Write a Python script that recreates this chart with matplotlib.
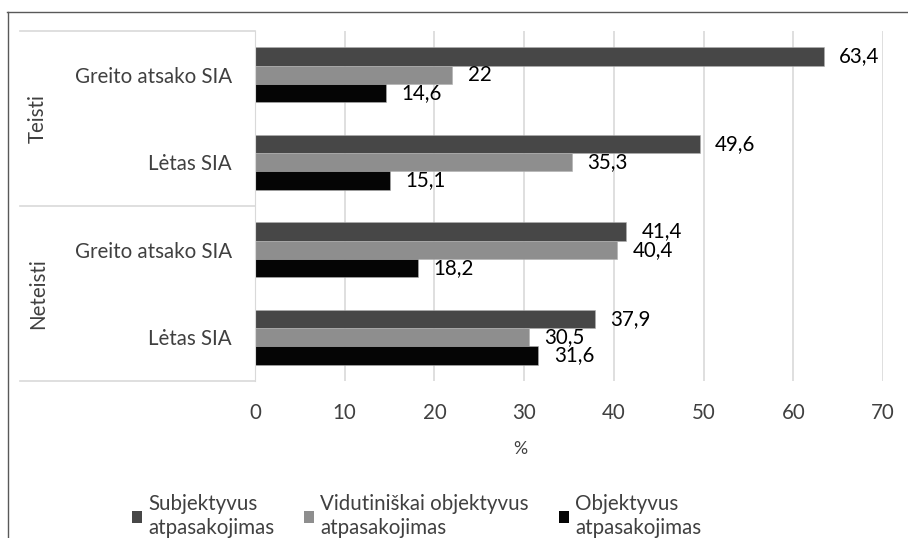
import numpy as np
import matplotlib
matplotlib.use("Agg")
import matplotlib.pyplot as plt
from matplotlib.patches import Patch
from matplotlib.lines import Line2D

plt.rcParams['font.family'] = ['Lato', 'DejaVu Sans']

# duomenys
groups = ["Teisti", "Neteisti"]
categories = ["Greito atsako SIA", "Lėtas SIA", "Greito atsako SIA", "Lėtas SIA"]
series_names = ["Subjektyvus\natpasakojimas",
                "Vidutiniškai objektyvus\natpasakojimas",
                "Objektyvus\natpasakojimas"]
subjektyvus = [63.4, 49.6, 41.4, 37.9]
vidutiniskai = [22, 35.3, 40.4, 30.5]
objektyvus = [14.6, 15.1, 18.2, 31.6]
x_ticks = [0, 10, 20, 30, 40, 50, 60, 70]

colors = ['#474747', '#8e8e8e', '#050505']
text_col = '#404040'
grid_col = '#d9d9d9'
fs = 14.8

W, H = 908, 538
fig = plt.figure(figsize=(W / 100, H / 100), dpi=100)
ax = fig.add_axes([255 / W, 1 - 381 / H, 628 / W, 350 / H])

y = np.arange(len(categories))
h = 0.208
for i, (vals, c, name) in enumerate(zip([subjektyvus, vidutiniskai, objektyvus], colors, series_names)):
    bars = ax.barh(y + (i - 1) * h, vals, height=h, color=c, label=name,
                   edgecolor='#b0b0b0', linewidth=0.4)
    ax.bar_label(bars, labels=[f"{v:g}".replace('.', ',') for v in vals],
                 padding=11, fontsize=fs, color='black')

ax.set_xlim(0, 70)
ax.set_ylim(3.5, -0.5)
ax.set_xticks(x_ticks)
ax.set_yticks(y)
ax.set_yticklabels(categories)
ax.grid(axis='x', color=grid_col, lw=1.2)
ax.set_axisbelow(True)
for s in ['top', 'right', 'bottom']:
    ax.spines[s].set_visible(False)
ax.spines['left'].set_color(grid_col)
ax.tick_params(axis='both', length=0, labelsize=fs, labelcolor=text_col)
ax.tick_params(axis='y', pad=16.5)
ax.tick_params(axis='x', pad=16)

# grupiu remas
trans = ax.get_yaxis_transform()
x0 = (20 - 255) / 628
for b in [-0.5, 1.5, 3.5]:
    ax.plot([x0, 0], [b, b], transform=trans, clip_on=False, color=grid_col, lw=1.2)
for k, g in enumerate(groups):
    ax.text((38 - 255) / 628, 2 * k + 0.5, g, transform=trans, rotation=90,
            ha='center', va='center', fontsize=fs, color=text_col)

fig.text(520 / W, 1 - 449 / H, '%', ha='center', va='center', fontsize=fs - 2, color=text_col)

handles = [Patch(facecolor=c, edgecolor='none') for c in colors]
leg = fig.legend(handles, series_names, loc='center left', bbox_to_anchor=(113 / W, 1 - 516 / H),
                 ncol=3, frameon=False, fontsize=fs, handlelength=0.5, handleheight=0.5,
                 handletextpad=0.3, columnspacing=1.45, labelcolor=text_col)
for t in leg.get_texts():
    t.set_linespacing(1.2)

# diagramos remelis
fig.add_artist(Line2D([7 / W, 1], [1 - 11.5 / H] * 2, transform=fig.transFigure, color='#595959', lw=1))
fig.add_artist(Line2D([7.5 / W] * 2, [0, 1 - 11.5 / H], transform=fig.transFigure, color='#595959', lw=1))

fig.savefig('out.png', dpi=100)
